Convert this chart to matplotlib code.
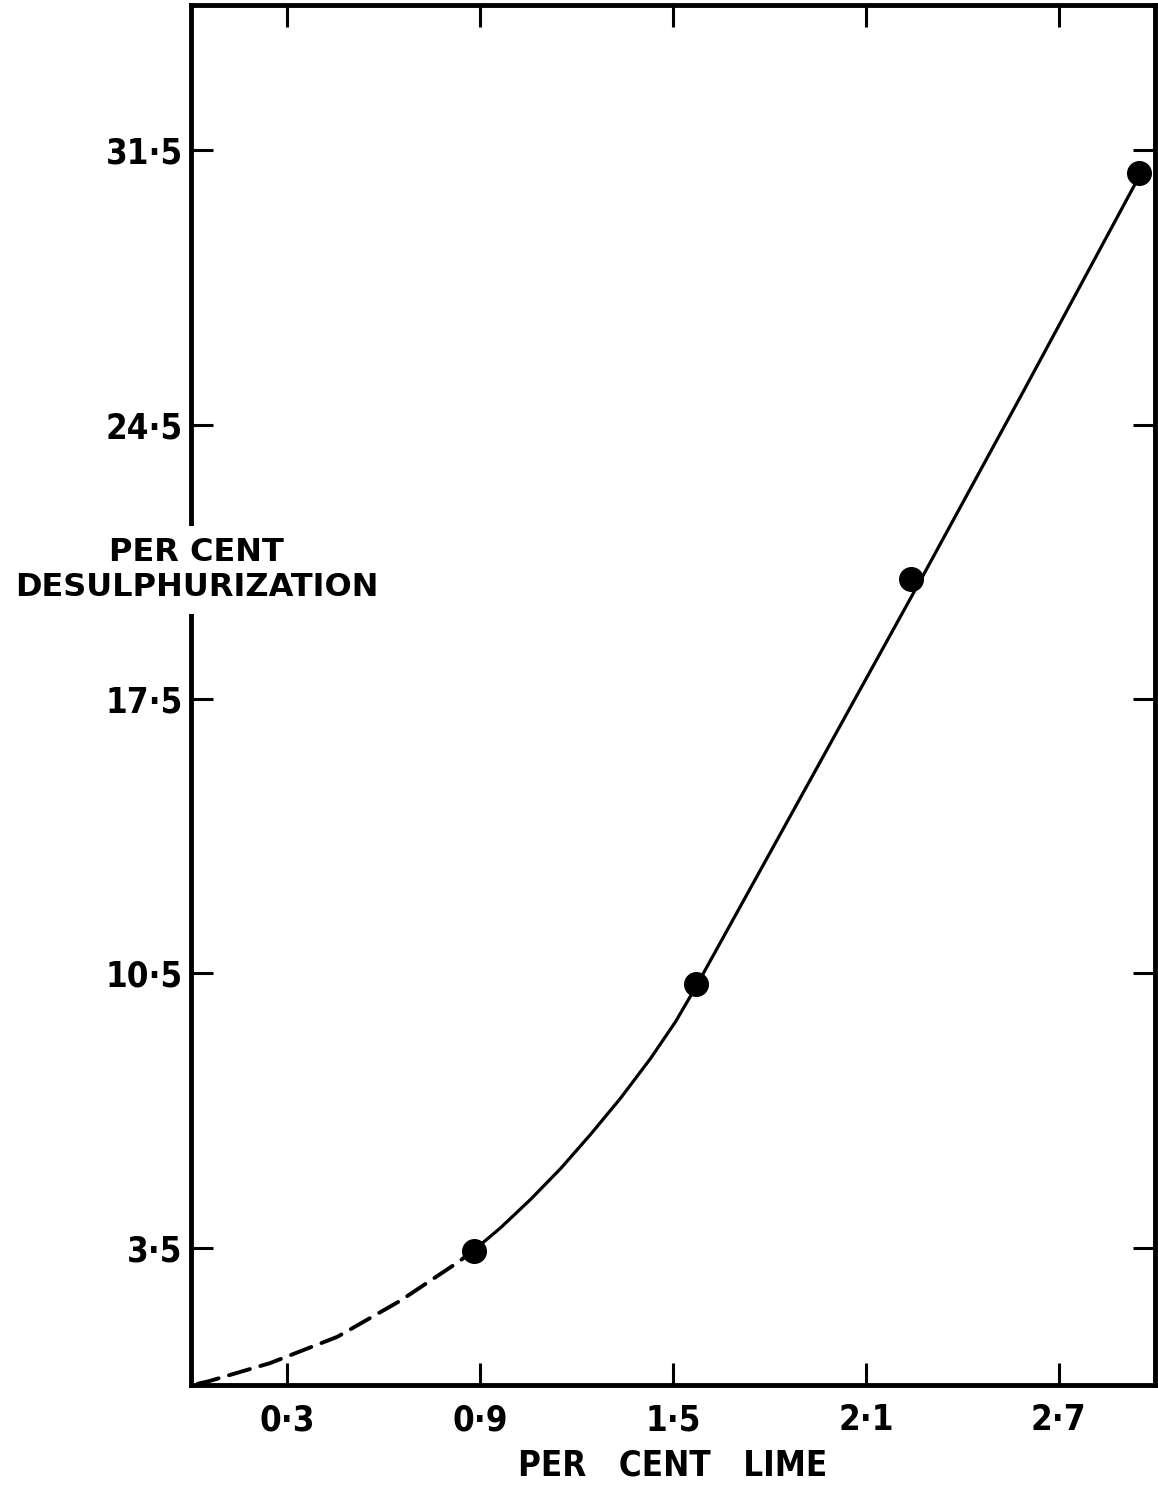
import matplotlib
matplotlib.use("Agg")
import matplotlib.pyplot as plt

# measured points
lime_pts = [0.88, 1.57, 2.24, 2.95]
desulph_pts = [3.42, 10.24, 20.57, 30.91]

# extrapolated (dashed) part of the curve
dash_x = [0.02, 0.056, 0.246, 0.455, 0.651, 0.832, 0.885]
dash_y = [0.03, 0.10, 0.56, 1.23, 2.15, 3.14, 3.47]

# fitted (solid) part of the curve
curve_x = [0.885, 0.963, 1.056, 1.150, 1.243, 1.336, 1.430, 1.508, 1.570,
           1.922, 2.271, 2.592, 2.941]
curve_y = [3.47, 4.01, 4.73, 5.52, 6.39, 7.31, 8.33, 9.27, 10.14,
           15.36, 20.54, 25.37, 30.68]

xticks = [0.3, 0.9, 1.5, 2.1, 2.7]
yticks = [3.5, 10.5, 17.5, 24.5, 31.5]

plt.rcParams['font.family'] = ['DejaVu Sans']

fig = plt.figure(figsize=(11.58, 14.85), dpi=100)
ax = fig.add_axes([0.165, 0.0673, 0.8324, 0.9293])

ax.plot(dash_x, dash_y, color='black', lw=2.8, dashes=(5.6, 2.8),
        dash_capstyle='round', dash_joinstyle='round')
ax.plot(curve_x, curve_y, color='black', lw=2.3, solid_joinstyle='round')
ax.plot(lime_pts, desulph_pts, 'o', color='black', markersize=17)

ax.set_xlim(0, 3.0)
ax.set_ylim(0, 35.2)

ax.set_xticks(xticks)
ax.set_xticklabels([f'{v:.1f}'.replace('.', '\u00b7') for v in xticks])
ax.set_yticks(yticks)
ax.set_yticklabels([f'{v:.1f}'.replace('.', '\u00b7') for v in yticks])
for lab in ax.get_xticklabels() + ax.get_yticklabels():
    lab.set_fontsize(25)
    lab.set_fontweight('bold')
    lab.set_fontstretch('condensed')

ax.tick_params(axis='x', direction='in', length=16, width=2.2, pad=13,
               top=True, bottom=True)
ax.tick_params(axis='y', direction='in', length=16, width=2.2, pad=6,
               left=True, right=True)

for s in ax.spines.values():
    s.set_linewidth(3.5)

ax.set_xlabel('PER   CENT   LIME', fontsize=25, fontweight='bold',
              fontstretch='condensed', labelpad=8)

fig.text(0.170, 0.616, 'PER CENT\nDESULPHURIZATION', fontsize=23,
         fontweight='bold', ha='center', va='center', multialignment='center',
         linespacing=1.15, zorder=10,
         bbox=dict(facecolor='white', edgecolor='none', pad=8))

fig.savefig('out.png', dpi=100)
